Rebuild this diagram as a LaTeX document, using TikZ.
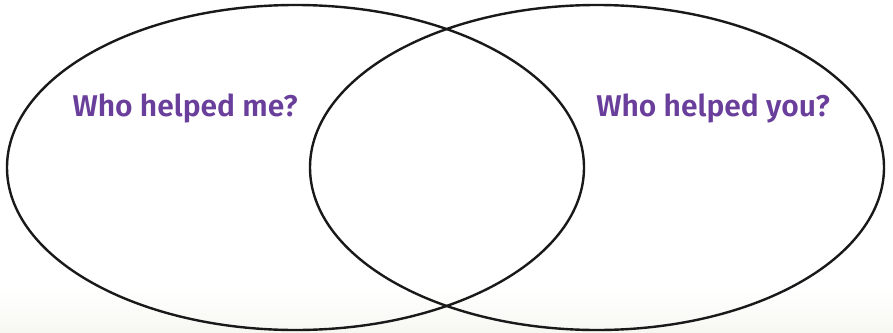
\documentclass[tikz,border=0pt]{standalone}
\usepackage{fontspec}
\newfontfamily\labfont{Fira Sans}[UprightFont={* SemiBold}]
\definecolor{labpurple}{HTML}{6A3F9C}
\definecolor{bandbeige}{HTML}{F7F7F2}
\tikzset{
  venn/.style={draw=black!90, line width=2.4pt},
  lab/.style={text=labpurple, font=\labfont\fontsize{30}{36}\selectfont, inner sep=0pt, anchor=base}
}
\begin{document}
\begin{tikzpicture}[x=1pt,y=-1pt]
\useasboundingbox (0,0) rectangle (893,332);
\fill[white] (0,0) rectangle (893,332);
\shade[top color=white, bottom color=bandbeige] (0,288) rectangle (893,332);
\draw[venn] (295.5,167.5) ellipse [x radius=288.5, y radius=162.5];
\draw[venn] (597,167.5) ellipse [x radius=287, y radius=162.5];
\node[lab] (me) at (185,116) {Who helped me?};
\node[lab] (you) at (713,116) {Who helped you?};
\end{tikzpicture}
\end{document}
